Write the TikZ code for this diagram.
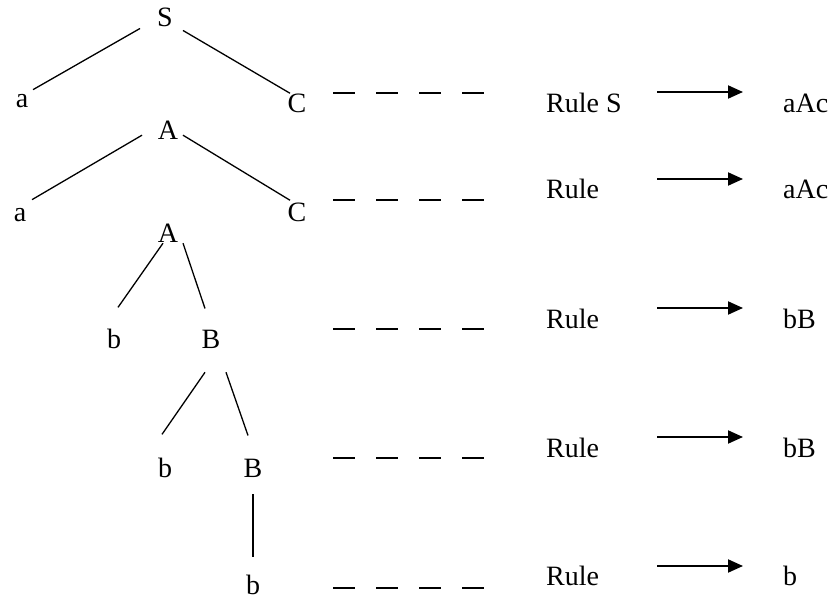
\documentclass[tikz,border=0pt]{standalone}
\usepackage{fontspec}
\setmainfont{Liberation Serif}
\usetikzlibrary{arrows.meta}

\tikzset{
  tnode/.style={anchor=base,inner sep=0pt},
  lbl/.style={anchor=base west,inner sep=0pt},
  branch/.style={line width=1.3pt},
  dashln/.style={line width=1.3pt,dash pattern=on 22pt off 21pt},
  arr/.style={line width=2pt,-{Triangle[length=15pt,width=13pt]}}
}

\begin{document}
\begin{tikzpicture}[x=1pt,y=-1pt,font=\fontsize{28}{32}\selectfont]
\useasboundingbox (0,0) rectangle (833,599);
% the tree
\node[tnode] (S) at (165,27) {S};
\node[tnode] (a1) at (22,108) {a};
\node[tnode] (C1) at (297,113) {C};
\node[tnode] (A1) at (168,140) {A};
\node[tnode] (a2) at (20,222) {a};
\node[tnode] (C2) at (297,222) {C};
\node[tnode] (A2) at (168,242) {A};
\node[tnode] (b1) at (114,348) {b};
\node[tnode] (B1) at (211,348) {B};
\node[tnode] (b2) at (165,477) {b};
\node[tnode] (B2) at (253,477) {B};
\node[tnode] (b3) at (253,594) {b};

\draw[branch] ([shift={(-25,1)}]S.south) -- ([shift={(11,-5)}]a1.north);
\draw[branch] ([shift={(18,3)}]S.south) -- ([shift={(-7,-1)}]C1.north);
\draw[branch] ([shift={(-26,-5)}]A1.south) -- ([shift={(12,-9)}]a2.north);
\draw[branch] ([shift={(15,-5)}]A1.south) -- ([shift={(-7,-3)}]C2.north);
\draw[branch] ([shift={(-5,1)}]A2.south) -- ([shift={(4,-21)}]b1.north);
\draw[branch] ([shift={(15,1)}]A2.south) -- ([shift={(-6,-21)}]B1.north);
\draw[branch] ([shift={(-6,24)}]B1.south) -- ([shift={(-3,-23)}]b2.north);
\draw[branch] ([shift={(15,24)}]B1.south) -- ([shift={(-5,-23)}]B2.north);
\draw[branch] ([shift={(0,17)}]B2.south) -- ([shift={(0,-17)}]b3.north);

% the rules
\foreach \i/\dy/\ay/\by/\lhs/\rhs in {1/93/92/113/Rule S/aAc,2/200/179/198/Rule/aAc,3/329/308/328/Rule/bB,4/458/437/457/Rule/bB,5/588/566/585/Rule/b}{
  \node[lbl] (rule\i) at (546,\by) {\lhs};
  \node[lbl] (rhs\i) at (783,\by) {\rhs};
  \coordinate (ds\i) at (333,\dy);
  \coordinate (de\i) at (485,\dy);
  \coordinate (as\i) at (657,\ay);
  \coordinate (ae\i) at (743,\ay);
  \draw[dashln] (ds\i) -- (de\i);
  \draw[arr] (as\i) -- (ae\i);
}
\end{tikzpicture}
\end{document}
